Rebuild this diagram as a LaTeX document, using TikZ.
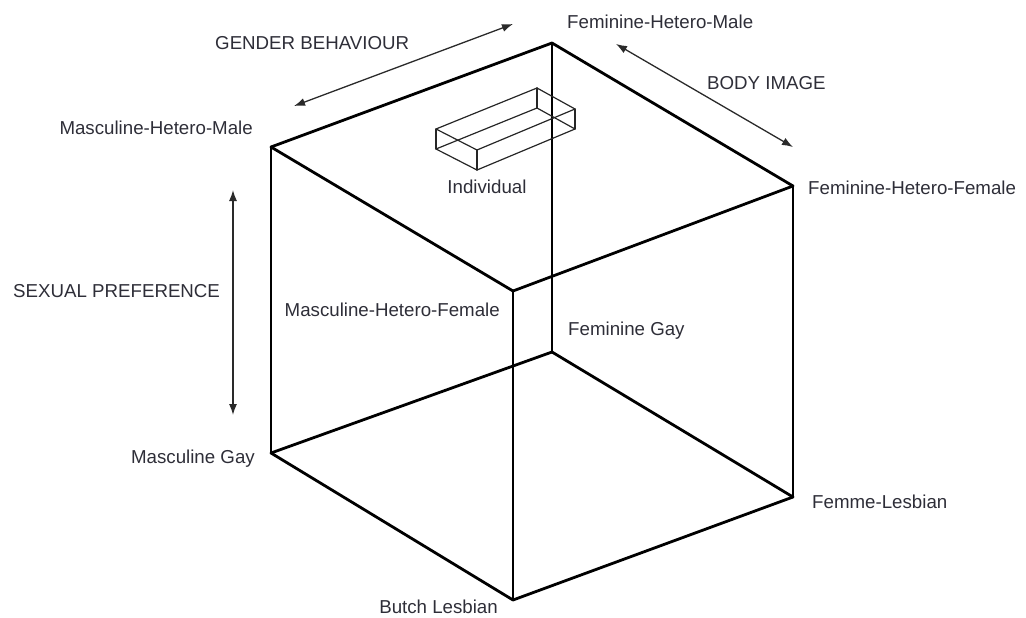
\documentclass[tikz,border=0pt]{standalone}
\usepackage{fontspec}
\setmainfont{Liberation Sans}
\usetikzlibrary{arrows.meta}
\definecolor{txt}{HTML}{2E2E38}
\definecolor{arr}{HTML}{2A2A2A}
\tikzset{
  lbl/.style={inner sep=0pt, text=txt, font=\fontsize{18.7}{22}\selectfont},
  cubeedge/.style={line width=2.8pt, black, line cap=round, line join=round},
  boxedge/.style={line width=1.2pt, black!85, line cap=round, line join=round},
  dimarrow/.style={line width=1.3pt, arr, {Latex[length=11pt,width=8pt]}-{Latex[length=11pt,width=8pt]}}
}
\begin{document}
\begin{tikzpicture}[x=1pt,y=-1pt]
\useasboundingbox (0,0) rectangle (1026,618);
% cube vertices
\coordinate (TB) at (552,43);
\coordinate (TL) at (271,147);
\coordinate (TR) at (793,186);
\coordinate (TF) at (513,291);
\coordinate (BB) at (552,352);
\coordinate (BL) at (271,453);
\coordinate (BR) at (793,497);
\coordinate (BF) at (513,600);
% cube edges
\draw[cubeedge] (TL) -- (TB);
\draw[cubeedge] (TB) -- (TR);
\draw[cubeedge] (TR) -- (TF);
\draw[cubeedge] (TF) -- (TL);
\draw[cubeedge] (BL) -- (BB);
\draw[cubeedge] (BB) -- (BR);
\draw[cubeedge] (BR) -- (BF);
\draw[cubeedge] (BF) -- (BL);
\draw[cubeedge] (TL) -- (BL);
\draw[cubeedge] (TB) -- (BB);
\draw[cubeedge] (TR) -- (BR);
\draw[cubeedge] (TF) -- (BF);
% individual box
\coordinate (iA) at (436,129);
\coordinate (iB) at (537,88);
\coordinate (iC) at (575,109);
\coordinate (iD) at (477,150);
\coordinate (jA) at (436,149);
\coordinate (jB) at (537,108);
\coordinate (jC) at (575,129);
\coordinate (jD) at (477,170);
\draw[boxedge] (iA) -- (iB);
\draw[boxedge] (iB) -- (iC);
\draw[boxedge] (iC) -- (iD);
\draw[boxedge] (iD) -- (iA);
\draw[boxedge] (jA) -- (jB);
\draw[boxedge] (jB) -- (jC);
\draw[boxedge] (jC) -- (jD);
\draw[boxedge] (jD) -- (jA);
\draw[boxedge] (iA) -- (jA);
\draw[boxedge] (iB) -- (jB);
\draw[boxedge] (iC) -- (jC);
\draw[boxedge] (iD) -- (jD);
% dimension arrows
\coordinate (gb1) at (294,106);
\coordinate (gb2) at (513,24);
\coordinate (bi1) at (616,44);
\coordinate (bi2) at (793,147);
\coordinate (sp1) at (233,190);
\coordinate (sp2) at (233,415);
\draw[dimarrow] (gb1) -- (gb2);
\draw[dimarrow] (bi1) -- (bi2);
\draw[dimarrow] (sp1) -- (sp2);
% labels
\node[lbl, anchor=west] (fhm) at (567,22) {Feminine-Hetero-Male};
\node[lbl, anchor=west] (gbl) at (215,43) {GENDER BEHAVIOUR};
\node[lbl, anchor=west] (bil) at (707,83) {BODY IMAGE};
\node[lbl, anchor=east] (mhm) at (253,128) {Masculine-Hetero-Male};
\node[lbl] (ind) at (487,187) {Individual};
\node[lbl, anchor=west] (fhf) at (808,188) {Feminine-Hetero-Female};
\node[lbl, anchor=west] (spl) at (13,291) {SEXUAL PREFERENCE};
\node[lbl, anchor=east] (mhf) at (500,310) {Masculine-Hetero-Female};
\node[lbl, anchor=west] (fg) at (568,331) {Feminine Gay};
\node[lbl, anchor=east] (mg) at (255,459) {Masculine Gay};
\node[lbl, anchor=west] (fl) at (812,502) {Femme-Lesbian};
\node[lbl, anchor=east] (bl) at (498,607) {Butch Lesbian};
\end{tikzpicture}
\end{document}
